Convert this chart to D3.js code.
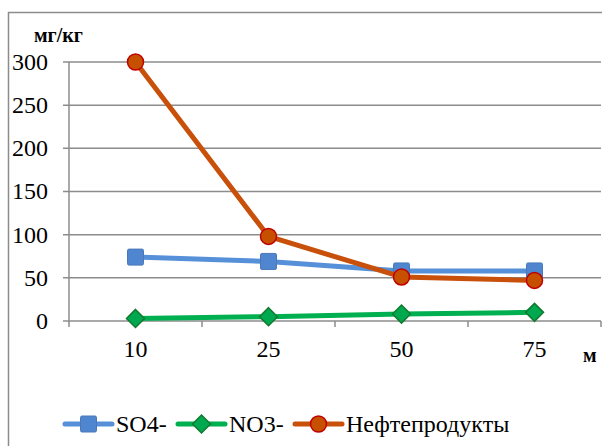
<!DOCTYPE html>
<html><head><meta charset="utf-8">
<script src="https://cdn.jsdelivr.net/npm/d3@7"></script>
</head><body style="margin:0">
<svg id="c" width="602" height="446"></svg>
<script>
const categories = ["10","25","50","75"];
const so4 = [74, 69, 58, 58];
const no3 = [3, 5, 8, 10];
const oil = [300, 98, 51, 47];
const yTicks = [0,50,100,150,200,250,300];
const seriesNames = ["SO4-","NO3-","Нефтепродукты"];

const svg = d3.select("#c");
function txt(sel, size, weight){
  return sel.attr("font-family","Liberation Serif")
    .style("font-family",'"Liberation Serif", "Times New Roman", serif',"important")
    .style("font-size",size+"px","important")
    .style("font-weight",weight||"normal","important")
    .attr("fill","#000");
}
svg.append("rect").attr("x",8.5).attr("y",12.5).attr("width",600).attr("height",440)
  .attr("fill","#fff").attr("stroke","#8c8c8c").attr("stroke-width",1.5);

const x = d3.scaleBand().domain(categories).range([69,601]);
const y = d3.scaleLinear().domain([0,300]).range([321,62]);

svg.append("g").selectAll("line").data(yTicks).join("line")
  .attr("x1",63).attr("x2",601).attr("y1",d=>y(d)).attr("y2",d=>y(d))
  .attr("stroke","#8c8c8c").attr("stroke-width",1.5);
svg.append("line").attr("x1",69).attr("x2",69).attr("y1",y(300)).attr("y2",y(0)+0.5)
  .attr("stroke","#8c8c8c").attr("stroke-width",1.5);
const bounds = categories.map(c=>x(c)).concat([x(categories[categories.length-1])+x.bandwidth()]);
svg.append("g").selectAll("line").data(bounds).join("line")
  .attr("x1",d=>d).attr("x2",d=>d).attr("y1",y(0)).attr("y2",y(0)+6)
  .attr("stroke","#8c8c8c").attr("stroke-width",1.5);

txt(svg.append("g").selectAll("text").data(yTicks).join("text")
  .attr("x",48).attr("y",d=>y(d)).attr("dy","0.33em").attr("text-anchor","end"),24)
  .text(d=>d3.format("d")(d));
const cx = c => x(c)+x.bandwidth()/2;
txt(svg.append("g").selectAll("text").data(categories).join("text")
  .attr("x",d=>cx(d)).attr("y",y(0)+36).attr("text-anchor","middle"),24)
  .text(d=>d);

txt(svg.append("text").attr("x",34).attr("y",42),20,"bold").text("мг/кг");
txt(svg.append("text").attr("x",583).attr("y",362),20,"bold").text("м");

const line = d3.line().x((d,i)=>cx(categories[i])).y(d=>y(d));
const styles = [
  {data:so4, color:"#5590d8", fill:"#4f86cf", stroke:"#4a78b8", shape:"square"},
  {data:no3, color:"#00b050", fill:"#00a84f", stroke:"#127a2e", shape:"diamond"},
  {data:oil, color:"#c9500a", fill:"#c65000", stroke:"#c00000", shape:"circle"}
];
function marker(g, s, px, py){
  if(s.shape==="square"){
    g.append("rect").attr("x",px-8).attr("y",py-8).attr("width",16).attr("height",16).attr("rx",1.5)
      .attr("fill",s.fill).attr("stroke",s.stroke).attr("stroke-width",1);
  } else if(s.shape==="diamond"){
    g.append("path").attr("d",`M${px},${py-9}L${px+9},${py}L${px},${py+9}L${px-9},${py}Z`)
      .attr("fill",s.fill).attr("stroke",s.stroke).attr("stroke-width",1.5);
  } else {
    g.append("circle").attr("cx",px).attr("cy",py).attr("r",8)
      .attr("fill",s.fill).attr("stroke",s.stroke).attr("stroke-width",1.5);
  }
}
styles.forEach(s=>{
  const g = svg.append("g");
  g.append("path").datum(s.data).attr("d",line).attr("fill","none")
    .attr("stroke",s.color).attr("stroke-width",5).attr("stroke-linejoin","round");
  s.data.forEach((v,i)=>marker(g,s,cx(categories[i]),y(v)));
});

const legX = [65,178,295];
styles.forEach((s,i)=>{
  const g = svg.append("g");
  const ly = 424;
  g.append("line").attr("x1",legX[i]).attr("x2",legX[i]+47).attr("y1",ly).attr("y2",ly)
    .attr("stroke",s.color).attr("stroke-width",5).attr("stroke-linecap","round");
  marker(g,s,legX[i]+23.5,ly);
  txt(g.append("text").attr("x",legX[i]+51).attr("y",ly).attr("dy","0.35em"),24).text(seriesNames[i]);
});
</script>
</body></html>
